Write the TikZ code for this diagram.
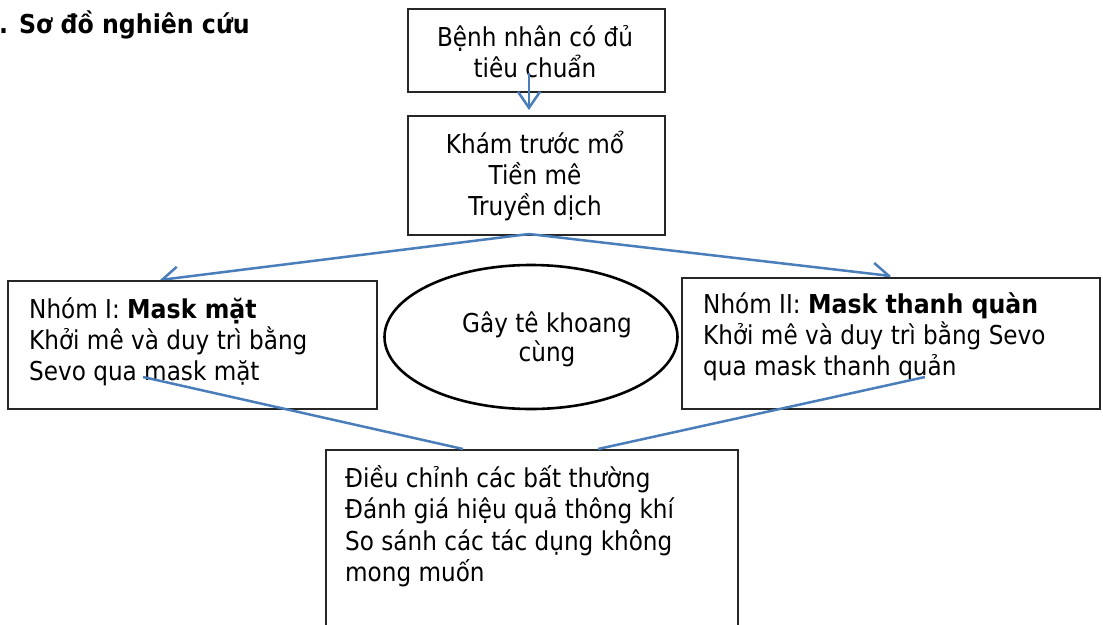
\documentclass[tikz,border=0pt]{standalone}
\usepackage{fontspec}
\setmainfont{DejaVu Sans}[FakeStretch=0.89, BoldFeatures={FakeStretch=0.91}]
\usetikzlibrary{arrows.meta,shapes.geometric}
\definecolor{conn}{RGB}{74,126,187}
\begin{document}
\begin{tikzpicture}[x=1pt,y=-1pt,
  txt/.style={inner sep=0pt, font=\fontsize{26}{31}\selectfont},
  boxr/.style={draw=black!85, line width=1.6pt, fill=white, inner sep=0pt, anchor=north west},
  link/.style={draw=conn, line width=2.5pt},
  arr/.style={link, -{Straight Barb[length=16pt,width=22pt]}}]
\useasboundingbox (0,0) rectangle (1103,624);
\fill[white] (0,0) rectangle (1103,624);

% title
\node[txt, anchor=base west] (title) at (-1,33) {\bfseries . Sơ đồ nghiên cứu};

% top boxes
\node[boxr, minimum width=257pt, minimum height=83pt] (b1) at (407,8) {};
\node[txt, anchor=base, align=center] (t1) at (535,77) {Bệnh nhân có đủ\\tiêu chuẩn};
\node[boxr, minimum width=257pt, minimum height=119pt] (b2) at (407,115) {};
\node[txt, anchor=base, align=center] (t2) at (535,215) {Khám trước mổ\\Tiền mê\\Truyền dịch};

\coordinate (a1s) at (529,73);
\coordinate (a1e) at (529,110);
\draw[arr] (a1s) -- (a1e);

% branch arrows
\coordinate (apex) at (529,234);
\coordinate (tipL) at (160,280);
\coordinate (tipR) at (891,276);
\draw[arr] (apex) -- (tipL);
\draw[arr] (apex) -- (tipR);

% ellipse
\node[draw=black, line width=2.6pt, ellipse, minimum width=293pt, minimum height=144pt, fill=white] (el) at (531,337) {};
\node[txt, anchor=base, align=center, font=\fontsize{26}{29}\selectfont] (te) at (547,361) {Gây tê khoang\\cùng};

% group boxes
\node[boxr, minimum width=369pt, minimum height=128pt] (g1) at (7,280) {};
\node[txt, anchor=base west, align=left] (tg1) at (29,380) {Nhóm I: \textbf{Mask mặt}\\Khởi mê và duy trì bằng\\Sevo qua mask mặt};
\node[boxr, minimum width=418pt, minimum height=131pt] (g2) at (681,277) {};
\node[txt, anchor=base west, align=left] (tg2) at (703,375) {Nhóm II: \textbf{Mask thanh quàn}\\Khởi mê và duy trì bằng Sevo\\qua mask thanh quản};

% bottom box
\node[boxr, minimum width=412pt, minimum height=200pt] (b3) at (325,449) {};
\node[txt, anchor=base west, align=left, font=\fontsize{26}{31.5}\selectfont] (t3) at (345,581.5) {Điều chỉnh các bất thường\\Đánh giá hiệu quả thông khí\\So sánh các tác dụng không\\mong muốn};

% converging lines
\coordinate (lL) at (143,377);
\coordinate (eL) at (463,449);
\coordinate (lR) at (925,377);
\coordinate (eR) at (598,449);
\draw[link] (lL) -- (eL);
\draw[link] (lR) -- (eR);
\end{tikzpicture}
\end{document}
